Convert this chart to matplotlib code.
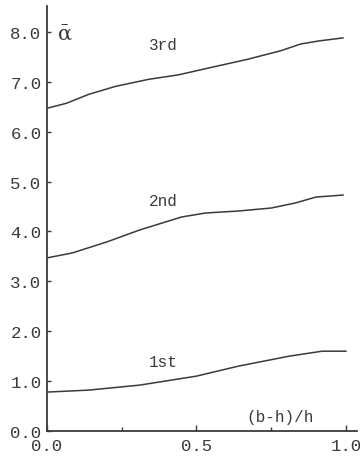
import numpy as np
import matplotlib.pyplot as plt

# values
x_1st = [0.0, 0.14, 0.31, 0.50, 0.64, 0.81, 0.92, 1.0]
a_1st = [0.78, 0.82, 0.92, 1.10, 1.30, 1.50, 1.60, 1.60]

x_2nd = [0.0, 0.085, 0.20, 0.31, 0.45, 0.53, 0.64, 0.75, 0.83, 0.90, 0.99]
a_2nd = [3.47, 3.57, 3.79, 4.03, 4.29, 4.37, 4.41, 4.47, 4.57, 4.69, 4.73]

x_3rd = [0.0, 0.065, 0.14, 0.23, 0.34, 0.44, 0.55, 0.67, 0.78, 0.85, 0.91, 0.99]
a_3rd = [6.47, 6.57, 6.75, 6.91, 7.05, 7.14, 7.29, 7.45, 7.62, 7.76, 7.82, 7.88]

mode_labels = ['1st', '2nd', '3rd']
label_pos = [(0.39, 1.40), (0.39, 4.62), (0.39, 7.75)]

x_ticks = [0.0, 0.5, 1.0]
y_ticks = [0.0, 1.0, 2.0, 3.0, 4.0, 5.0, 6.0, 7.0, 8.0]

ink = '#3a3a3a'
plt.rcParams['font.family'] = ['Liberation Mono', 'DejaVu Sans Mono']

fig = plt.figure(figsize=(3.6, 4.64), dpi=100)
ax = fig.add_axes([47 / 360, 1 - 432 / 464, 310 / 360, 425 / 464])

for xs, ys in [(x_1st, a_1st), (x_2nd, a_2nd), (x_3rd, a_3rd)]:
    ax.plot(xs, ys, color=ink, lw=1.1, solid_joinstyle='round')

for lab, (lx, ly) in zip(mode_labels, label_pos):
    ax.text(lx, ly, lab, fontsize=11.5, color=ink, ha='center', va='center')

# alpha with bar over it
ax.text(0.06, 7.98, '\u1fb1', fontsize=15, color=ink,
        ha='center', va='center', family=['DejaVu Serif', 'DejaVu Sans'])
ax.text(0.78, 0.30, '(b-h)/h', fontsize=11.5, color=ink, ha='center', va='center')

ax.set_xlim(0, 1.037)
ax.set_ylim(0, 8.52)
ax.set_xticks(x_ticks)
ax.set_xticklabels(['%.1f' % v for v in x_ticks])
ax.set_xticks([0.25, 0.75], minor=True)
ax.set_yticks(y_ticks)
ax.set_yticklabels(['%.1f' % v for v in y_ticks])

ax.spines['top'].set_visible(False)
ax.spines['right'].set_visible(False)
for s in ['left', 'bottom']:
    ax.spines[s].set_color(ink)
    ax.spines[s].set_linewidth(1.3)

ax.tick_params(axis='y', direction='in', length=3, width=1, colors=ink,
               labelsize=12.5, pad=4)
ax.tick_params(axis='x', direction='in', length=4, width=1, colors=ink,
               labelsize=12.5, pad=5)
ax.tick_params(axis='x', which='minor', direction='in', length=3, width=1, colors=ink)

fig.savefig('out.png', dpi=100)
